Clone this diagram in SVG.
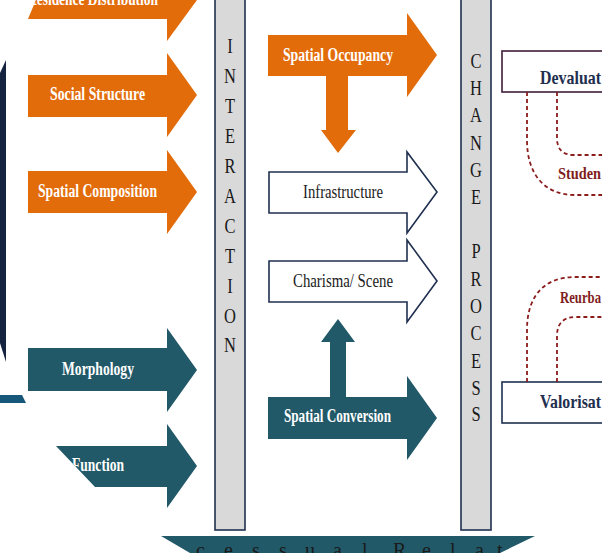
<svg xmlns="http://www.w3.org/2000/svg" width="602" height="553" viewBox="0 0 602 553">
<style>
.org{fill:#E36C0A}
.teal{fill:#215968}
.wht{fill:#ffffff;stroke:#1F3050;stroke-width:1.6}
.bar{fill:#D9D9D9;stroke:#1F3050;stroke-width:1.6}
.lbl{font-family:"Liberation Serif","Times New Roman",serif;font-weight:bold;font-size:18px;fill:#ffffff}
.dk{font-family:"Liberation Serif","Times New Roman",serif;font-size:18px;fill:#222222}
.vl{font-family:"Liberation Serif","Times New Roman",serif;font-size:22px;fill:#1a1a1a;text-anchor:middle}
.box{font-family:"Liberation Serif","Times New Roman",serif;font-weight:bold;font-size:19px;fill:#1F2F4F}
.red{font-family:"Liberation Serif","Times New Roman",serif;font-weight:bold;font-size:16px;fill:#7F1D1D}
.dash{fill:none;stroke:#8B1C1C;stroke-width:1.8;stroke-dasharray:4 3}
</style>
<defs>
<clipPath id="clipRes"><polygon points="28,19 38,-5 170,-5 170,19"/></clipPath>
<clipPath id="clipFun"><polygon points="56,446 167,446 167,487 95,487"/></clipPath>
</defs>
<rect width="602" height="553" fill="#ffffff"/>

<g id="left-edge">
<polygon points="0,73 6,60 6,362 0,343" fill="#14233F"/>
<polygon points="0,395 22,395 26,403 0,403" fill="#17577A"/>
</g>

<g id="residence-distribution">
<polygon class="org" points="38,-5 167,-5 167,-20 197,0 167,41 167,19 28,19"/>
<text class="lbl" x="27" y="5" textLength="131" lengthAdjust="spacingAndGlyphs" clip-path="url(#clipRes)">Residence Distribution</text>
</g>

<g id="social-structure">
<polygon class="org" points="28,75 167,75 167,53 197,95 167,137 167,117 28,117"/>
<text class="lbl" x="50" y="100" textLength="95" lengthAdjust="spacingAndGlyphs">Social Structure</text>
</g>

<g id="spatial-composition">
<polygon class="org" points="28,171 167,171 167,150 197,192 167,234 167,213 28,213"/>
<text class="lbl" x="38" y="197" textLength="119" lengthAdjust="spacingAndGlyphs">Spatial Composition</text>
</g>

<g id="morphology">
<polygon class="teal" points="28,348 167,348 167,328 197,370 167,412 167,391 28,391"/>
<text class="lbl" x="62" y="375" textLength="72" lengthAdjust="spacingAndGlyphs">Morphology</text>
</g>

<g id="function">
<polygon class="teal" points="56,446 167,446 167,424 197,466 167,508 167,487 95,487"/>
<text class="lbl" x="72" y="471" textLength="52" lengthAdjust="spacingAndGlyphs" clip-path="url(#clipFun)">Function</text>
</g>

<g id="interaction">
<rect class="bar" x="215" y="-3" width="30" height="533"/>
<g transform="translate(230 0) scale(0.75 1)">
<text class="vl" x="0" y="53">I</text>
<text class="vl" x="0" y="83">N</text>
<text class="vl" x="0" y="113">T</text>
<text class="vl" x="0" y="143">E</text>
<text class="vl" x="0" y="173">R</text>
<text class="vl" x="0" y="203">A</text>
<text class="vl" x="0" y="233">C</text>
<text class="vl" x="0" y="263">T</text>
<text class="vl" x="0" y="293">I</text>
<text class="vl" x="0" y="323">O</text>
<text class="vl" x="0" y="352">N</text>
</g>
</g>

<g id="change-process">
<rect class="bar" x="461" y="-3" width="30" height="533"/>
<g transform="translate(476 0) scale(0.75 1)">
<text class="vl" x="0" y="68">C</text>
<text class="vl" x="0" y="95">H</text>
<text class="vl" x="0" y="122">A</text>
<text class="vl" x="0" y="150">N</text>
<text class="vl" x="0" y="177">G</text>
<text class="vl" x="0" y="204">E</text>
<text class="vl" x="0" y="258">P</text>
<text class="vl" x="0" y="286">R</text>
<text class="vl" x="0" y="313">O</text>
<text class="vl" x="0" y="340">C</text>
<text class="vl" x="0" y="368">E</text>
<text class="vl" x="0" y="395">S</text>
<text class="vl" x="0" y="421">S</text>
</g>
</g>

<g id="spatial-occupancy">
<polygon class="org" points="268,35 407,35 407,13 437,55 407,97 407,76 348,76 348,130 356,130 338,153 321,130 326,130 326,76 268,76"/>
<text class="lbl" x="283" y="61" textLength="110" lengthAdjust="spacingAndGlyphs">Spatial Occupancy</text>
</g>

<g id="infrastructure">
<polygon class="wht" points="269,172 407,172 407,152 437,192 407,233 407,213 269,213"/>
<text class="dk" x="303" y="198" textLength="80" lengthAdjust="spacingAndGlyphs">Infrastructure</text>
</g>

<g id="charisma-scene">
<polygon class="wht" points="269,261 407,261 407,240 437,281 407,322 407,302 269,302"/>
<text class="dk" x="293" y="287" textLength="100" lengthAdjust="spacingAndGlyphs">Charisma/ Scene</text>
</g>

<g id="spatial-conversion">
<polygon class="teal" points="268,397 330,397 330,342 321,342 338,319 355,342 346,342 346,397 407,397 407,376 437,418 407,460 407,439 268,439"/>
<text class="lbl" x="284" y="422" textLength="107" lengthAdjust="spacingAndGlyphs">Spatial Conversion</text>
</g>

<g id="devaluation">
<rect x="502" y="51" width="130" height="41" fill="#ffffff" stroke="#3F1D3A" stroke-width="1.6"/>
<text class="box" x="540" y="84" textLength="61" lengthAdjust="spacingAndGlyphs">Devaluat</text>
</g>

<g id="valorisation">
<rect x="502" y="382" width="130" height="41" fill="#ffffff" stroke="#1F3050" stroke-width="1.6"/>
<text class="box" x="540" y="408" textLength="61" lengthAdjust="spacingAndGlyphs">Valorisat</text>
</g>

<g id="connectors">
<path class="dash" d="M527,92 V140 C527,175 545,195 575,195 H604"/>
<path class="dash" d="M557,92 V138 Q557,155 574,155 H604"/>
<path class="dash" d="M527,382 V330 C527,295 545,277 575,277 H604"/>
<path class="dash" d="M557,382 V336 Q557,317 576,317 H604"/>
<text class="red" x="558" y="179" textLength="43" lengthAdjust="spacingAndGlyphs">Studen</text>
<text class="red" x="560" y="303" textLength="41" lengthAdjust="spacingAndGlyphs">Reurba</text>
</g>

<g id="causal-relations">
<polygon class="teal" points="161,536 535,536 500,553 190,553"/>
<g font-family="'Liberation Serif','Times New Roman',serif" font-size="20px" fill="#1a1a1a">
<text x="196" y="557">c</text>
<text x="224" y="557">e</text>
<text x="252" y="557">s</text>
<text x="279" y="557">s</text>
<text x="305" y="557">u</text>
<text x="333" y="557">a</text>
<text x="362" y="557">l</text>
<text x="393" y="557">R</text>
<text x="422" y="557">e</text>
<text x="450" y="557">l</text>
<text x="475" y="557">a</text>
<text x="497" y="557">t</text>
</g>
</g>
</svg>
